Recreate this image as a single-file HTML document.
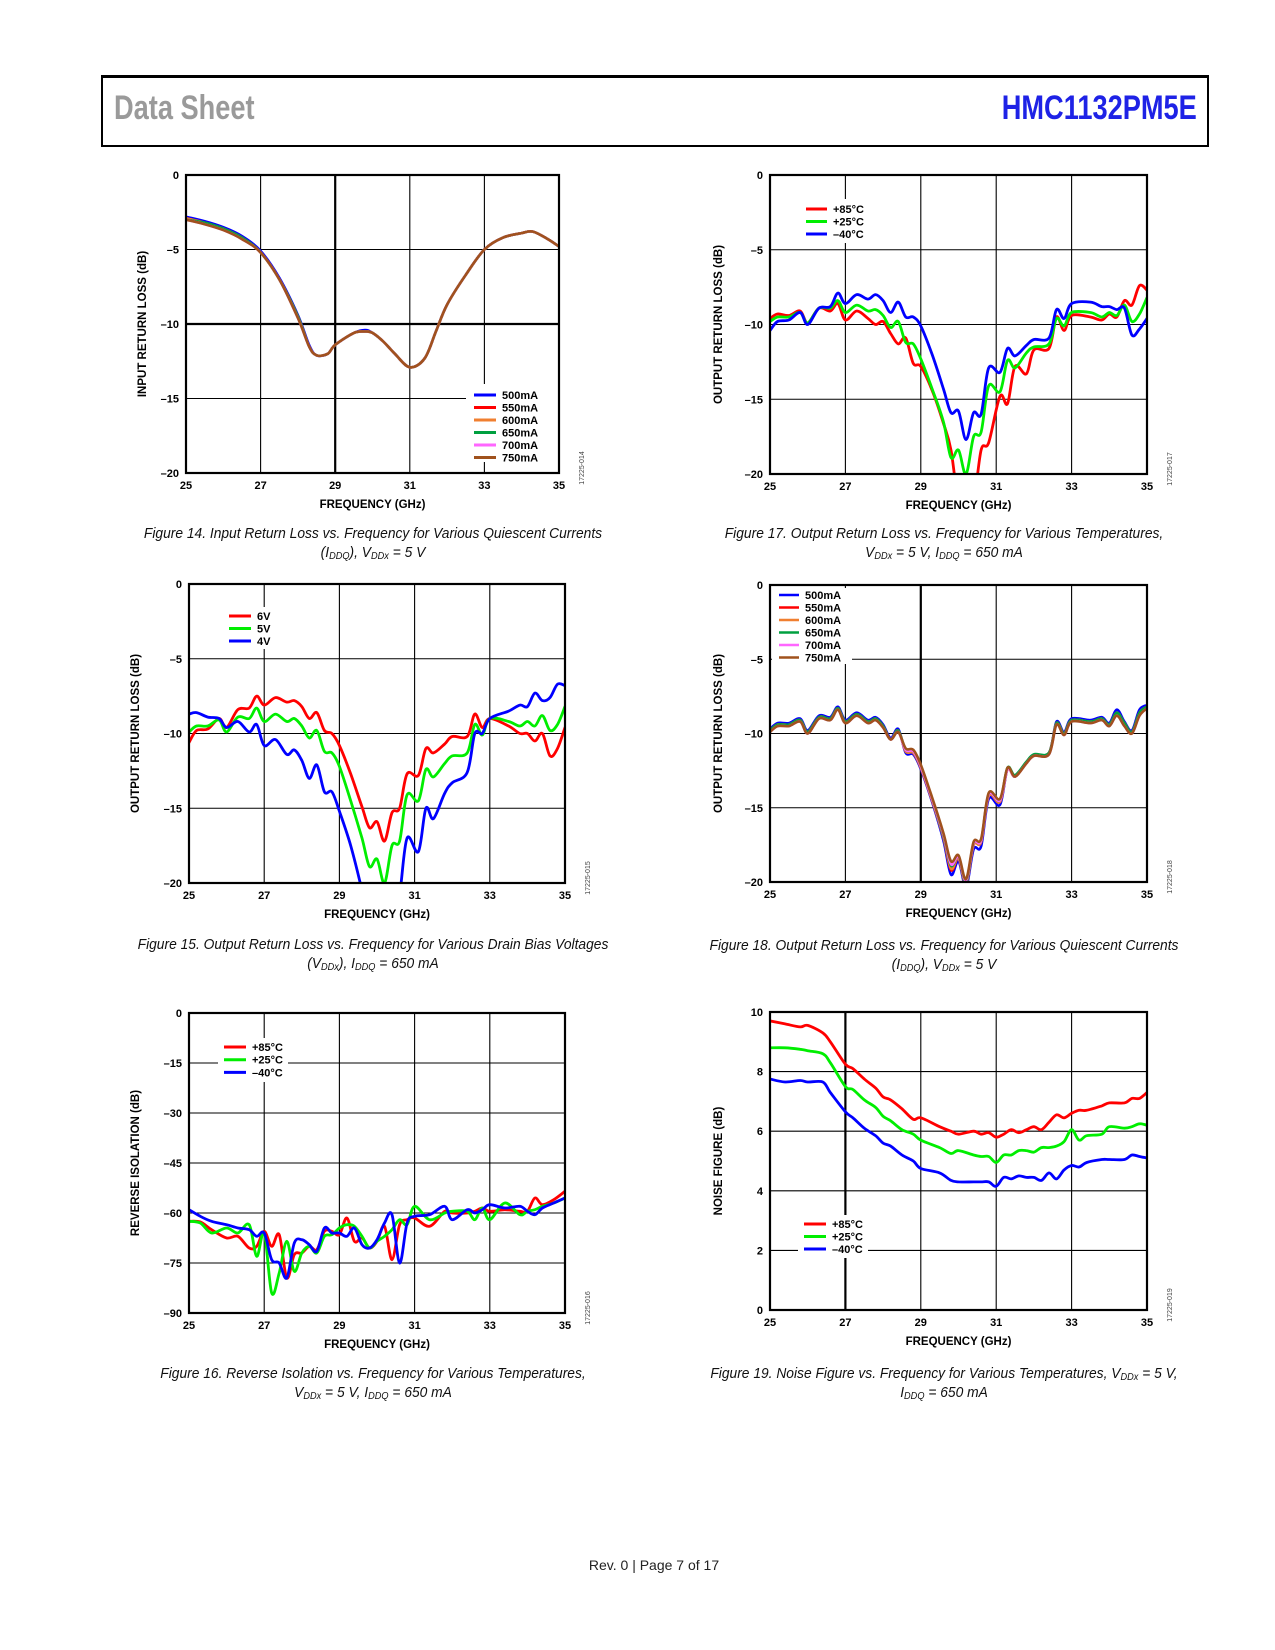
<!DOCTYPE html>
<html><head><meta charset="utf-8">
<style>
html,body{margin:0;padding:0;background:#fff;}
body{width:1275px;height:1650px;position:relative;overflow:hidden;font-family:"Liberation Sans",sans-serif;}
#hdr{position:absolute;left:101px;top:75px;width:1104px;height:67px;border:2px solid #000;border-top-width:3px;border-bottom-width:2px;}
#ds{position:absolute;left:11px;top:11px;font-family:"Liberation Sans Narrow","Liberation Sans",sans-serif;font-size:34px;color:#9a9a9a;transform:scaleX(0.8);transform-origin:left top;font-weight:bold;}
#pn{position:absolute;right:10px;top:11px;font-family:"Liberation Sans Narrow","Liberation Sans",sans-serif;font-size:34px;font-weight:bold;color:#1e22e6;transform:scaleX(0.8);transform-origin:right top;}
.cap{position:absolute;width:560px;text-align:center;font-family:"Liberation Sans Narrow","Liberation Sans",sans-serif;font-style:italic;font-size:15px;line-height:19px;color:#111;transform:scaleX(0.92);transform-origin:center top;}
.cap sub{font-size:10px;vertical-align:-2px;line-height:0;}
#foot{position:absolute;left:0;width:1308px;top:1557px;text-align:center;font-size:14px;color:#222;}
svg{position:absolute;left:0;top:0;}
</style></head>
<body>
<div id="hdr">
<div id="ds">Data Sheet</div>
<div id="pn">HMC1132PM5E</div>
</div>

<div class="cap" style="left:93px;top:524px">Figure 14. Input Return Loss vs. Frequency for Various Quiescent Currents<br>(I<sub>DDQ</sub>), V<sub>DDx</sub> = 5 V</div>
<div class="cap" style="left:664px;top:524px">Figure 17. Output Return Loss vs. Frequency for Various Temperatures,<br>V<sub>DDx</sub> = 5 V, I<sub>DDQ</sub> = 650 mA</div>
<div class="cap" style="left:93px;top:935px">Figure 15. Output Return Loss vs. Frequency for Various Drain Bias Voltages<br>(V<sub>DDx</sub>), I<sub>DDQ</sub> = 650 mA</div>
<div class="cap" style="left:664px;top:936px">Figure 18. Output Return Loss vs. Frequency for Various Quiescent Currents<br>(I<sub>DDQ</sub>), V<sub>DDx</sub> = 5 V</div>
<div class="cap" style="left:93px;top:1364px">Figure 16. Reverse Isolation vs. Frequency for Various Temperatures,<br>V<sub>DDx</sub> = 5 V, I<sub>DDQ</sub> = 650 mA</div>
<div class="cap" style="left:664px;top:1364px">Figure 19. Noise Figure vs. Frequency for Various Temperatures, V<sub>DDx</sub> = 5 V,<br>I<sub>DDQ</sub> = 650 mA</div>

<div id="foot">Rev. 0 | Page 7 of 17</div>

<svg id="page" width="1275" height="1650" xmlns="http://www.w3.org/2000/svg"></svg>

<script>
// ---------- shared x tick labels ----------
const xTicks = [25, 27, 29, 31, 33, 35];

// ---------- Figure 14 data ----------
const f14Freq = [25,25.5,26,26.5,27,27.5,28,28.3,28.5,28.8,29,29.5,29.8,30,30.3,30.6,31,31.4,31.7,32,32.5,33,33.5,34,34.3,34.7,35];
const f14_500 = [-2.8,-3.1,-3.5,-4.1,-5.1,-6.9,-9.4,-11.4,-12.1,-12.0,-11.4,-10.6,-10.4,-10.6,-11.2,-12.0,-12.9,-12.3,-10.5,-8.7,-6.7,-5.0,-4.2,-3.9,-3.8,-4.3,-4.8];
const f14_550 = [-2.9,-3.2,-3.6,-4.2,-5.2,-7.0,-9.5,-11.5,-12.1,-12.0,-11.4,-10.6,-10.5,-10.6,-11.2,-12.0,-12.9,-12.3,-10.5,-8.7,-6.7,-5.0,-4.2,-3.9,-3.8,-4.3,-4.8];
const f14_600 = [-2.9,-3.2,-3.6,-4.2,-5.2,-7.0,-9.5,-11.5,-12.1,-12.0,-11.4,-10.6,-10.5,-10.6,-11.2,-12.0,-12.9,-12.3,-10.5,-8.7,-6.7,-5.0,-4.2,-3.9,-3.8,-4.3,-4.8];
const f14_650 = [-3.0,-3.2,-3.6,-4.2,-5.2,-7.0,-9.5,-11.5,-12.1,-12.0,-11.4,-10.6,-10.5,-10.6,-11.2,-12.0,-12.9,-12.3,-10.5,-8.7,-6.7,-5.0,-4.2,-3.9,-3.8,-4.3,-4.8];
const f14_700 = [-3.0,-3.3,-3.7,-4.3,-5.2,-7.0,-9.6,-11.5,-12.1,-12.0,-11.4,-10.6,-10.5,-10.6,-11.2,-12.0,-12.9,-12.3,-10.5,-8.7,-6.7,-5.0,-4.2,-3.9,-3.8,-4.3,-4.8];
const f14_750 = [-3.0,-3.3,-3.7,-4.3,-5.2,-7.0,-9.6,-11.5,-12.1,-12.0,-11.4,-10.6,-10.5,-10.6,-11.2,-12.0,-12.9,-12.3,-10.5,-8.7,-6.7,-5.0,-4.2,-3.9,-3.8,-4.3,-4.8];
const f14YTicks = [0,-5,-10,-15,-20];

// ---------- Figure 17 / 15 / 18 frequency grid ----------
const orlFreq = [25,25.2,25.5,25.8,26,26.3,26.6,26.8,27,27.3,27.6,27.8,28,28.2,28.4,28.6,28.8,29,29.3,29.6,29.8,30,30.2,30.4,30.6,30.8,31.1,31.3,31.5,31.8,32,32.4,32.6,32.8,33,33.5,33.8,34,34.2,34.4,34.6,34.8,35];
const orlYTicks = [0,-5,-10,-15,-20];

// Figure 17 (temperature)
const f17_85 = [-9.6,-9.3,-9.4,-9.1,-9.9,-8.9,-9.1,-8.6,-9.7,-9.1,-9.6,-10.0,-9.8,-10.6,-11.3,-10.9,-12.6,-12.8,-14.4,-16.6,-18.4,-22,-23,-22,-18.4,-17.9,-14.8,-15.3,-12.8,-13.3,-11.7,-11.6,-9.5,-10.4,-9.4,-9.5,-9.7,-9.3,-9.5,-8.4,-8.7,-7.4,-7.7];
const f17_25 = [-9.8,-9.5,-9.5,-9.2,-9.9,-8.9,-8.9,-8.4,-9.2,-8.7,-9.1,-9.0,-9.4,-10.2,-9.8,-11.2,-11.3,-12.3,-14.3,-16.5,-18.9,-18.4,-20.0,-17.5,-17.2,-14.1,-14.5,-12.4,-12.9,-11.9,-11.5,-11.3,-9.6,-10.1,-9.2,-9.2,-9.5,-9.2,-9.4,-8.7,-9.8,-9.3,-8.2];
const f17_m40 = [-10.4,-9.8,-9.7,-9.2,-10.0,-8.9,-8.8,-7.9,-8.6,-8.0,-8.3,-8.0,-8.4,-9.2,-8.5,-9.5,-9.5,-10.1,-12.0,-14.3,-15.9,-15.8,-17.7,-15.9,-16.0,-12.9,-13.2,-11.6,-12.1,-11.4,-11.0,-10.9,-9.0,-9.6,-8.6,-8.5,-8.8,-8.8,-9.0,-8.9,-10.7,-10.3,-9.6];

// Figure 15 (drain voltage)
const f15_6v = [-10.6,-9.8,-9.7,-9.0,-9.6,-8.4,-8.3,-7.5,-8.1,-7.6,-7.9,-7.8,-8.2,-9.0,-8.6,-9.8,-10.0,-10.8,-12.7,-14.9,-16.3,-15.9,-17.2,-15.3,-15.0,-12.7,-12.8,-11.0,-11.3,-10.7,-10.2,-10.2,-8.7,-9.6,-9.0,-9.5,-10.0,-10.0,-10.5,-10.0,-11.5,-11.0,-9.6];
const f15_5v = [-9.9,-9.5,-9.5,-9.1,-9.9,-8.9,-9.0,-8.3,-9.2,-8.7,-9.2,-9.0,-9.5,-10.3,-9.8,-11.2,-11.3,-12.2,-14.5,-17.0,-18.9,-18.4,-20.0,-17.5,-17.2,-14.1,-14.5,-12.4,-12.9,-12.0,-11.5,-11.3,-9.4,-10.1,-9.0,-9.2,-9.5,-9.2,-9.5,-8.8,-9.8,-9.4,-8.2];
const f15_4v = [-8.7,-8.6,-8.9,-9.0,-9.6,-9.2,-9.9,-9.4,-10.8,-10.4,-11.4,-11.1,-11.8,-13.0,-12.1,-13.9,-13.9,-15.2,-17.5,-20.5,-23,-24,-24,-23,-20.8,-17.0,-17.9,-15.0,-15.7,-14.0,-13.3,-12.6,-10.0,-10.0,-9.0,-8.5,-8.1,-8.2,-7.3,-7.8,-7.6,-6.7,-6.8];

// Figure 18 (quiescent current)
const f18_500 = [-9.7,-9.3,-9.3,-9.0,-9.8,-8.8,-8.9,-8.2,-9.1,-8.6,-9.1,-8.9,-9.4,-10.3,-9.7,-11.3,-11.4,-12.4,-14.6,-17.2,-19.5,-18.6,-20.3,-17.8,-17.6,-14.4,-14.8,-12.4,-12.9,-12.0,-11.5,-11.3,-9.2,-9.9,-9.0,-9.1,-8.9,-9.3,-8.4,-9.2,-9.8,-8.4,-8.1];
const f18_550 = [-9.8,-9.4,-9.4,-9.1,-9.9,-8.9,-9.0,-8.3,-9.2,-8.7,-9.2,-9.0,-9.5,-10.4,-9.8,-11.2,-11.3,-12.3,-14.5,-17.0,-19.2,-18.4,-20.1,-17.5,-17.3,-14.2,-14.6,-12.4,-12.9,-12.0,-11.5,-11.3,-9.3,-10.0,-9.1,-9.2,-9.0,-9.4,-8.6,-9.3,-9.9,-8.6,-8.2];
const f18_600 = [-9.8,-9.4,-9.4,-9.1,-9.9,-8.9,-9.0,-8.3,-9.2,-8.7,-9.2,-9.0,-9.5,-10.4,-9.8,-11.2,-11.3,-12.3,-14.5,-17.0,-19.1,-18.4,-20.1,-17.5,-17.3,-14.2,-14.6,-12.4,-12.9,-12.0,-11.5,-11.3,-9.3,-10.0,-9.1,-9.2,-9.0,-9.4,-8.6,-9.3,-9.9,-8.6,-8.2];
const f18_650 = [-9.8,-9.4,-9.4,-9.1,-9.9,-8.9,-9.0,-8.3,-9.2,-8.7,-9.2,-9.0,-9.5,-10.4,-9.8,-11.1,-11.2,-12.2,-14.4,-16.9,-18.9,-18.3,-20.0,-17.4,-17.2,-14.1,-14.5,-12.3,-12.8,-11.9,-11.4,-11.3,-9.3,-10.0,-9.1,-9.2,-9.0,-9.4,-8.6,-9.3,-9.9,-8.6,-8.2];
const f18_700 = [-9.9,-9.5,-9.5,-9.2,-10.0,-9.0,-9.1,-8.4,-9.3,-8.8,-9.3,-9.1,-9.6,-10.4,-9.9,-11.1,-11.2,-12.2,-14.4,-16.8,-18.8,-18.3,-19.9,-17.4,-17.2,-14.1,-14.5,-12.4,-12.9,-12.0,-11.5,-11.4,-9.4,-10.1,-9.2,-9.3,-9.1,-9.5,-8.8,-9.5,-10.0,-8.8,-8.3];
const f18_750 = [-9.9,-9.5,-9.5,-9.2,-10.0,-9.0,-9.1,-8.4,-9.3,-8.8,-9.3,-9.1,-9.6,-10.4,-9.9,-11.0,-11.1,-12.1,-14.3,-16.7,-18.6,-18.2,-19.8,-17.3,-17.1,-14.0,-14.4,-12.3,-12.9,-12.0,-11.5,-11.4,-9.4,-10.1,-9.2,-9.3,-9.1,-9.5,-8.8,-9.5,-10.0,-8.8,-8.3];

// ---------- Figure 16 (reverse isolation) ----------
const f16Freq = [25,25.3,25.6,26,26.3,26.6,26.8,27,27.2,27.4,27.6,27.8,28,28.2,28.4,28.6,28.8,29,29.2,29.4,29.6,29.8,30,30.2,30.4,30.6,30.8,31,31.4,31.8,32,32.4,32.6,32.8,33,33.4,33.8,34,34.2,34.4,34.7,35];
const f16_85 = [-62.5,-62.7,-65,-67.5,-67,-70.5,-70,-65.5,-70,-66.5,-79.5,-72.5,-72,-70,-71,-65.5,-65.5,-66.5,-61.5,-68.5,-67.5,-70.5,-68.5,-64,-74,-63.5,-62,-61.5,-64,-59.5,-60,-60,-59.5,-58.5,-59.5,-59,-59.5,-59.5,-55.5,-57.5,-56,-53.5];
const f16_25 = [-62.5,-63,-66,-64.5,-66,-63.5,-73,-66,-84,-78,-68.5,-77.5,-72,-70,-72,-67,-66.5,-64.5,-63.5,-64,-67,-70.5,-68.5,-67,-65,-62,-63.5,-58,-62,-60,-59.5,-59.5,-62,-58.5,-62,-57,-60.5,-59.5,-59,-58,-57,-55.5];
const f16_m40 = [-59,-61,-62.5,-63.5,-64.5,-65,-67,-66,-74,-75,-79.5,-69,-68,-69.5,-71.5,-64.5,-66,-66,-67,-64.5,-69.5,-70.5,-68,-63,-60.5,-75,-63,-61,-60.5,-58,-62,-59,-60,-59,-57.5,-58.5,-58,-59.5,-60.5,-58.5,-57,-55.5];
const f16YTicks = [0,-15,-30,-45,-60,-75,-90];

// ---------- Figure 19 (noise figure) ----------
const f19Freq = [25,25.4,25.8,26,26.4,26.6,27,27.2,27.5,27.8,28,28.2,28.5,28.8,29,29.5,29.8,30,30.4,30.6,30.8,31,31.2,31.4,31.6,31.8,32,32.2,32.4,32.6,32.8,33,33.2,33.4,33.8,34,34.4,34.6,34.8,35];
const f19_85 = [9.7,9.6,9.5,9.55,9.3,9.0,8.25,8.1,7.75,7.45,7.15,7.05,6.75,6.4,6.45,6.15,6.0,5.9,6.0,5.9,5.95,5.8,5.9,6.05,5.95,6.05,6.15,6.05,6.3,6.55,6.45,6.6,6.7,6.7,6.85,6.95,6.95,7.1,7.1,7.3];
const f19_25 = [8.8,8.8,8.75,8.7,8.6,8.3,7.5,7.4,7.05,6.8,6.5,6.35,6.05,5.9,5.7,5.45,5.25,5.35,5.2,5.15,5.15,4.95,5.2,5.2,5.35,5.35,5.3,5.45,5.45,5.5,5.65,6.05,5.7,5.85,5.9,6.15,6.1,6.15,6.25,6.2];
const f19_m40 = [7.75,7.65,7.7,7.65,7.65,7.3,6.65,6.45,6.1,5.85,5.6,5.5,5.2,5.0,4.75,4.6,4.35,4.3,4.3,4.3,4.3,4.15,4.45,4.4,4.5,4.45,4.45,4.35,4.6,4.4,4.7,4.85,4.8,4.95,5.05,5.05,5.05,5.2,5.15,5.1];
const f19YTicks = [10,8,6,4,2,0];

// ---------- drawing ----------
const NS = 'http://www.w3.org/2000/svg';
const svg = document.getElementById('page');
function mk(tag, attrs, parent){
  const e = document.createElementNS(NS, tag);
  for (const k in attrs) e.setAttribute(k, attrs[k]);
  (parent||svg).appendChild(e);
  return e;
}
function smoothPath(pts){
  let d = 'M' + pts[0][0].toFixed(1) + ' ' + pts[0][1].toFixed(1);
  for (let i=0;i<pts.length-1;i++){
    const p0 = pts[i-1]||pts[i], p1 = pts[i], p2 = pts[i+1], p3 = pts[i+2]||p2;
    const c1x = p1[0]+(p2[0]-p0[0])/6, c1y = p1[1]+(p2[1]-p0[1])/6;
    const c2x = p2[0]-(p3[0]-p1[0])/6, c2y = p2[1]-(p3[1]-p1[1])/6;
    d += ' C'+c1x.toFixed(1)+' '+c1y.toFixed(1)+' '+c2x.toFixed(1)+' '+c2y.toFixed(1)+' '+p2[0].toFixed(1)+' '+p2[1].toFixed(1);
  }
  return d;
}
function fmt(v){ return v<0 ? '\u2013'+Math.abs(v) : String(v); }

function chart(c){
  const g = mk('g', {});
  
  
  const xs = f => c.L + (f-25)/10*(c.R-c.L);
  const ys = v => c.T + (c.ymax-v)/(c.ymax-c.ymin)*(c.B-c.T);
  xTicks.forEach(t=>{
    if (t===25||t===35) return;
    const ln = mk('line',{x1:xs(t),x2:xs(t),y1:c.T,y2:c.B,stroke:'#000','stroke-width':(c.thickX||[]).includes(t)?2.2:1.1},g);
    
    
  });
  c.yticks.forEach(t=>{
    if (t===c.ymax||t===c.ymin) return;
    const ln = mk('line',{x1:c.L,x2:c.R,y1:ys(t),y2:ys(t),stroke:'#000','stroke-width':(c.thickY||[]).includes(t)?2.2:1.1},g);
    
    
  });
  const lg = c.legend;
  const lb = mk('rect',{x:lg.bx,y:lg.by,width:lg.bw,height:lg.bh,fill:'#fff'},g);
  
  
  const cid = 'clip-'+c.name;
  const cp = mk('clipPath',{id:cid},g);
  mk('rect',{x:c.L,y:c.T,width:c.R-c.L,height:c.B-c.T},cp);
  const sg = mk('g',{'clip-path':'url(#'+cid+')'},g);
  c.series.forEach(s=>{
    const pts = s.v.map((v,i)=>[xs(c.freq[i]), ys(v)]);
    const p = mk('path',{d:smoothPath(pts),fill:'none',stroke:s.color,'stroke-width':c.sw||2.8,'stroke-linejoin':'round','stroke-linecap':'round'},sg);
    
    
  });
  const fr = mk('rect',{x:c.L,y:c.T,width:c.R-c.L,height:c.B-c.T,fill:'none',stroke:'#000','stroke-width':2.2},g);
  
  
  c.yticks.forEach(t=>{
    const tx = mk('text',{x:c.L-7,y:ys(t)+4,'text-anchor':'end','font-size':11,'font-weight':'bold','font-family':'Liberation Sans, sans-serif'},g);
    tx.textContent = fmt(t);
    
    
  });
  xTicks.forEach(t=>{
    const tx = mk('text',{x:xs(t),y:c.B+16,'text-anchor':'middle','font-size':11,'font-weight':'bold','font-family':'Liberation Sans, sans-serif'},g);
    tx.textContent = String(t);
    
    
  });
  const xt = mk('text',{x:(c.L+c.R)/2,y:c.B+35,'text-anchor':'middle','font-size':11.5,'font-weight':'bold','font-family':'Liberation Sans, sans-serif'},g);
  xt.textContent = 'FREQUENCY (GHz)';
  
  
  const yx = c.L - c.ytOff, yy = (c.T+c.B)/2;
  const yt = mk('text',{x:yx,y:yy,'text-anchor':'middle','font-size':11.5,'font-weight':'bold','font-family':'Liberation Sans, sans-serif',transform:'rotate(-90 '+yx+' '+yy+')'},g);
  yt.textContent = c.ytitle;
  
  
  const cx = c.R+25, cy = c.B-5;
  const code = mk('text',{x:cx,y:cy,'text-anchor':'middle','font-size':7,fill:'#444','font-family':'Liberation Sans, sans-serif',transform:'rotate(-90 '+cx+' '+cy+')'},g);
  code.textContent = c.code;
  
  
  c.series.forEach((s,i)=>{
    const y = lg.y + i*lg.dy;
    const le = mk('g',{},g);
    
    
    mk('line',{x1:lg.x,x2:lg.x+lg.len,y1:y,y2:y,stroke:s.color,'stroke-width':lg.lw||3},le);
    const t = mk('text',{x:lg.x+lg.len+6,y:y+4,'font-size':11,'font-weight':'bold','font-family':'Liberation Sans, sans-serif'},le);
    t.textContent = s.label;
  });
}

const RED='#ff0000', GRN='#00ee00', BLU='#0000ff';

chart({name:'figure-14-chart', L:186,R:559,T:175,B:473, ymax:0,ymin:-20, yticks:f14YTicks, freq:f14Freq, thickX:[29], thickY:[-10], sw:2.6, ytOff:40,
  ytitle:'INPUT RETURN LOSS (dB)', code:'17225-014',
  legend:{bx:466,by:384,bw:92,bh:78,x:474,y:395,dy:12.5,len:22},
  series:[
   {key:'500ma',label:'500mA',color:'#0000ff',v:f14_500},
   {key:'550ma',label:'550mA',color:'#ff0000',v:f14_550},
   {key:'600ma',label:'600mA',color:'#f07f30',v:f14_600},
   {key:'650ma',label:'650mA',color:'#00a040',v:f14_650},
   {key:'700ma',label:'700mA',color:'#ff66ff',v:f14_700},
   {key:'750ma',label:'750mA',color:'#a0521d',v:f14_750}]});

chart({name:'figure-17-chart', L:770,R:1147,T:175,B:474, ymax:0,ymin:-20, yticks:orlYTicks, freq:orlFreq, ytOff:48,
  ytitle:'OUTPUT RETURN LOSS (dB)', code:'17225-017',
  legend:{bx:800,by:199,bw:70,bh:44,x:806,y:209,dy:12.5,len:21},
  series:[
   {key:'plus85c',label:'+85\u00b0C',color:RED,v:f17_85},
   {key:'plus25c',label:'+25\u00b0C',color:GRN,v:f17_25},
   {key:'minus40c',label:'\u201340\u00b0C',color:BLU,v:f17_m40}]});

chart({name:'figure-15-chart', L:189,R:565,T:584,B:883, ymax:0,ymin:-20, yticks:orlYTicks, freq:orlFreq, ytOff:50,
  ytitle:'OUTPUT RETURN LOSS (dB)', code:'17225-015',
  legend:{bx:222,by:607,bw:50,bh:42,x:229,y:616,dy:12.5,len:22},
  series:[
   {key:'6v',label:'6V',color:RED,v:f15_6v},
   {key:'5v',label:'5V',color:GRN,v:f15_5v},
   {key:'4v',label:'4V',color:BLU,v:f15_4v}]});

chart({name:'figure-18-chart', L:770,R:1147,T:585,B:882, ymax:0,ymin:-20, yticks:orlYTicks, freq:orlFreq, ytOff:48, thickX:[29], sw:2.6,
  ytitle:'OUTPUT RETURN LOSS (dB)', code:'17225-018',
  legend:{bx:772,by:588,bw:80,bh:76,x:779,y:595,dy:12.5,len:20,lw:2.5},
  series:[
   {key:'500ma',label:'500mA',color:'#0000ff',v:f18_500},
   {key:'550ma',label:'550mA',color:'#ff0000',v:f18_550},
   {key:'600ma',label:'600mA',color:'#f07f30',v:f18_600},
   {key:'650ma',label:'650mA',color:'#00a040',v:f18_650},
   {key:'700ma',label:'700mA',color:'#ff66ff',v:f18_700},
   {key:'750ma',label:'750mA',color:'#a0521d',v:f18_750}]});

chart({name:'figure-16-chart', L:189,R:565,T:1013,B:1313, ymax:0,ymin:-90, yticks:f16YTicks, freq:f16Freq, ytOff:50,
  ytitle:'REVERSE ISOLATION (dB)', code:'17225-016',
  legend:{bx:218,by:1038,bw:70,bh:44,x:224,y:1047,dy:12.7,len:22},
  series:[
   {key:'plus85c',label:'+85\u00b0C',color:RED,v:f16_85},
   {key:'plus25c',label:'+25\u00b0C',color:GRN,v:f16_25},
   {key:'minus40c',label:'\u201340\u00b0C',color:BLU,v:f16_m40}]});

chart({name:'figure-19-chart', L:770,R:1147,T:1012,B:1310, ymax:10,ymin:0, yticks:f19YTicks, freq:f19Freq, ytOff:48, thickX:[27],
  ytitle:'NOISE FIGURE (dB)', code:'17225-019',
  legend:{bx:798,by:1215,bw:70,bh:43,x:804,y:1224,dy:12.5,len:22},
  series:[
   {key:'plus85c',label:'+85\u00b0C',color:RED,v:f19_85},
   {key:'plus25c',label:'+25\u00b0C',color:GRN,v:f19_25},
   {key:'minus40c',label:'\u201340\u00b0C',color:BLU,v:f19_m40}]});
</script>
</body></html>
